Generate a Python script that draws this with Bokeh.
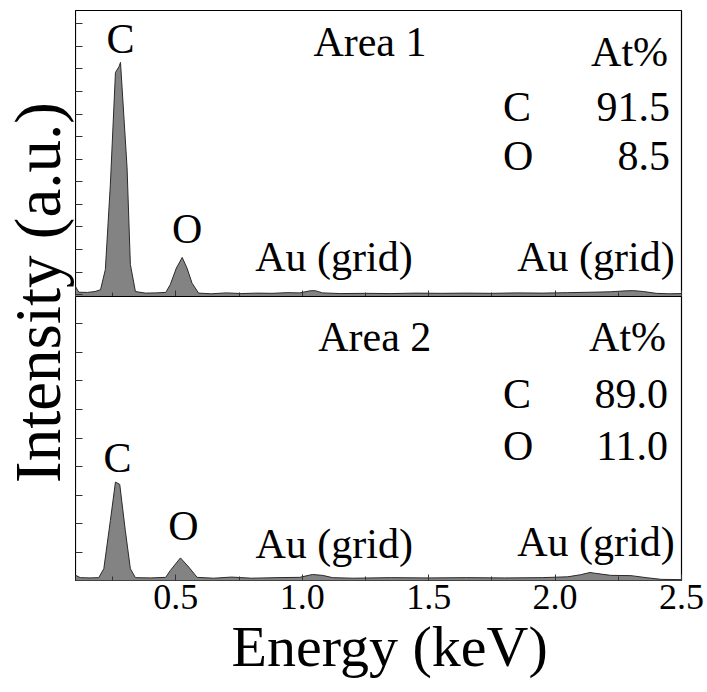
import math
from bokeh.plotting import figure
from bokeh.layouts import row, column
from bokeh.models import Range1d, SingleIntervalTicker, CustomJSTickFormatter, Title
from bokeh.core.properties import value
from bokeh.embed import file_html
from bokeh.resources import INLINE

FONT = "Liberation Serif"

# ---------------- data ----------------
x_start, x_end = 0.103, 2.5

area1_energy = [0.103, 0.116, 0.150, 0.180, 0.202, 0.221, 0.241, 0.261, 0.275, 0.281,
                0.307, 0.320, 0.340, 0.380, 0.420, 0.460, 0.478, 0.502, 0.525, 0.544,
                0.564, 0.590, 0.640, 0.700, 0.760, 0.820, 0.880, 0.940, 0.990, 1.030,
                1.050, 1.080, 1.150, 1.250, 1.350, 1.450, 1.550, 1.650, 1.750, 1.850,
                1.950, 2.050, 2.150, 2.220, 2.280, 2.310, 2.350, 2.400, 2.450, 2.500]
area1_counts = [0.36, 0.11, 0.10, 0.14, 0.22, 1.11, 4.90, 9.84, 10.10, 10.29,
                5.62, 1.34, 0.14, 0.07, 0.08, 0.10, 0.45, 1.18, 1.65, 1.18,
                0.51, 0.07, 0.04, 0.08, 0.05, 0.07, 0.06, 0.09, 0.08, 0.17,
                0.18, 0.08, 0.05, 0.06, 0.05, 0.07, 0.06, 0.07, 0.06, 0.08,
                0.07, 0.09, 0.11, 0.13, 0.17, 0.18, 0.14, 0.06, 0.04, 0.05]

area2_energy = [0.103, 0.122, 0.160, 0.195, 0.215, 0.241, 0.261, 0.278, 0.300, 0.320,
                0.340, 0.400, 0.460, 0.478, 0.518, 0.551, 0.584, 0.650, 0.720, 0.800,
                0.900, 0.990, 1.040, 1.080, 1.120, 1.200, 1.350, 1.500, 1.650, 1.800,
                1.950, 2.050, 2.100, 2.138, 2.160, 2.220, 2.300, 2.360, 2.420, 2.500]
area2_counts = [0.20, 0.12, 0.11, 0.12, 0.43, 2.12, 3.46, 3.38, 1.77, 0.43,
                0.12, 0.11, 0.13, 0.37, 0.81, 0.49, 0.13, 0.10, 0.14, 0.10,
                0.12, 0.13, 0.23, 0.20, 0.12, 0.10, 0.12, 0.11, 0.12, 0.11,
                0.12, 0.15, 0.22, 0.30, 0.27, 0.20, 0.19, 0.12, 0.06, 0.05]

y1_range = (-0.08, 12.59)
y2_range = (0.02, 9.95)

panel_titles = ["Area 1", "Area 2"]
elements = ["C", "O"]
area1_at = ["91.5", "8.5"]
area2_at = ["89.0", "11.0"]
tick_labels = {0.5: "0.5", 1: "1.0", 1.5: "1.5", 2: "2.0", 2.5: "2.5"}

x_label = "Energy (keV)"
y_label = "Intensity (a.u.)"

# ---------------- layout constants ----------------
LAB_W = 75
LEFT_B = 0
RIGHT_B = 24
MAIN_W = LEFT_B + 606 + RIGHT_B
TOP_H = 296
BOT_H = 396
TOTAL_H = TOP_H + BOT_H


def empty_fmt():
    return CustomJSTickFormatter(code="return ''")


def make_panel(height, yr, energy, counts, bottom):
    p = figure(width=MAIN_W, height=height,
               x_range=Range1d(x_start, x_end), y_range=Range1d(*yr),
               output_backend="svg", toolbar_location=None,
               min_border_left=LEFT_B, min_border_right=RIGHT_B,
               min_border_top=0 if bottom else 10,
               min_border_bottom=(BOT_H - 284) if bottom else 0)
    p.xgrid.visible = False
    p.ygrid.visible = False
    p.outline_line_color = "black"
    p.outline_line_width = 1.2
    p.background_fill_color = "white"
    p.border_fill_color = "white"

    xa = p.xaxis[0]
    xa.ticker = SingleIntervalTicker(interval=0.5, num_minor_ticks=2)
    xa.axis_line_color = None
    xa.major_tick_in = 6
    xa.major_tick_out = 0
    xa.minor_tick_in = 4
    xa.minor_tick_out = 0
    xa.major_tick_line_color = "#333333"
    xa.minor_tick_line_color = "#333333"
    if bottom:
        xa.major_label_text_font = FONT
        xa.major_label_text_font_size = "36px"
        xa.major_label_text_color = "black"
        xa.major_label_standoff = 4
        xa.major_label_overrides = tick_labels
    else:
        xa.formatter = empty_fmt()
        xa.major_label_text_font_size = "1px"
        xa.major_label_standoff = 0

    ya = p.yaxis[0]
    ya.ticker = SingleIntervalTicker(interval=1, num_minor_ticks=0)
    ya.formatter = empty_fmt()
    ya.major_label_standoff = 0
    ya.major_label_text_font_size = "1px"
    ya.axis_line_color = None
    ya.major_tick_in = 7
    ya.major_tick_out = 0
    ya.minor_tick_line_color = None
    ya.major_tick_line_color = "#333333"

    base = [yr[0] - 1.0] * len(energy)
    p.varea(x=energy, y1=base, y2=counts, fill_color="#838383")
    p.line(x=energy, y=counts, line_color="#2a2a2a", line_width=1)
    return p


def txt(p, x, y, s, align="left", size="42px"):
    p.text(x=[x], y=[y], text=[s], text_font=value(FONT), text_font_size=size,
           text_align=align, text_baseline="alphabetic", text_color="black")


top = make_panel(TOP_H, y1_range, area1_energy, area1_counts, bottom=False)
bot = make_panel(BOT_H, y2_range, area2_energy, area2_counts, bottom=True)

# annotations, top panel
txt(top, 0.281, 11.34, elements[0], "center")
txt(top, 0.545, 2.90, elements[1], "center")
txt(top, 1.044, 11.21, panel_titles[0])
txt(top, 0.814, 1.65, "Au (grid)")
txt(top, 1.850, 1.65, "Au (grid)")
txt(top, 2.447, 10.76, "At%", "right")
txt(top, 1.794, 8.32, elements[0])
txt(top, 2.455, 8.32, area1_at[0], "right")
txt(top, 1.794, 6.14, elements[1])
txt(top, 2.455, 6.14, area1_at[1], "right")

# annotations, bottom panel
txt(bot, 0.269, 4.32, elements[0], "center")
txt(bot, 0.530, 1.94, elements[1], "center")
txt(bot, 1.063, 8.55, panel_titles[1])
txt(bot, 0.815, 1.28, "Au (grid)")
txt(bot, 1.850, 1.35, "Au (grid)")
txt(bot, 2.439, 8.55, "At%", "right")
txt(bot, 1.794, 6.53, elements[0])
txt(bot, 2.447, 6.53, area2_at[0], "right")
txt(bot, 1.794, 4.71, elements[1])
txt(bot, 2.447, 4.71, area2_at[1], "right")

# x axis title below the tick labels
bot.add_layout(Title(text=x_label, align="left", offset=156, standoff=0,
                     text_font=FONT, text_font_size="58px", text_font_style="normal",
                     text_color="black"), "below")

# y label strip
lab = figure(width=LAB_W, height=TOTAL_H, x_range=Range1d(0, LAB_W),
             y_range=Range1d(0, TOTAL_H), x_axis_type=None, y_axis_type=None,
             output_backend="svg", toolbar_location=None, min_border=0)
lab.xgrid.visible = False
lab.ygrid.visible = False
lab.outline_line_color = None
lab.text(x=[37.5], y=[TOTAL_H - 292], text=[y_label], angle=math.pi / 2,
         text_align="center", text_baseline="middle", text_font=value(FONT),
         text_font_size="65px", text_color="black")

layout = row(lab, column(top, bot, spacing=0), spacing=0)

open("out.html", "w").write(file_html(layout, INLINE))
